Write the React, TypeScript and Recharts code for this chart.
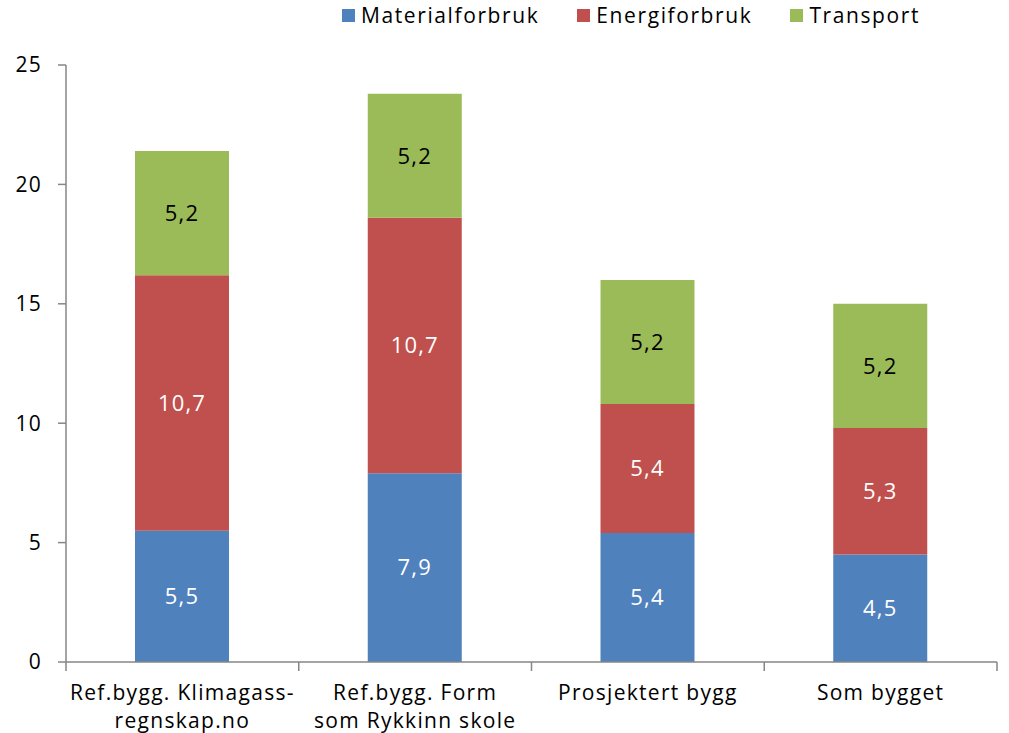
import { Bar, BarChart, LabelList, Legend, XAxis, YAxis } from 'recharts';

const categories = ['Ref.bygg. Klimagass-\nregnskap.no', 'Ref.bygg. Form\nsom Rykkinn skole', 'Prosjektert bygg', 'Som bygget'];
const materialforbruk = [5.5, 7.9, 5.4, 4.5];
const energiforbruk = [10.7, 10.7, 5.4, 5.3];
const transport = [5.2, 5.2, 5.2, 5.2];
const yTicks = [0, 5, 10, 15, 20, 25];

const series = [
  { key: 'material', name: 'Materialforbruk', color: '#4f81bd', labelColor: '#ffffff' },
  { key: 'energi', name: 'Energiforbruk', color: '#c0504d', labelColor: '#ffffff' },
  { key: 'transport', name: 'Transport', color: '#9bbb59', labelColor: '#000000' },
];

const data = categories.map((name, i) => ({
  name,
  material: materialforbruk[i],
  energi: energiforbruk[i],
  transport: transport[i],
}));

const FONT = '"Open Sans", sans-serif';
const AXIS = '#868686';
const SPACING = 1.3;
const fmt = (v: any) => String(v).replace('.', ',');

const CategoryTick = (props: any) => {
  const { x, y, payload } = props;
  const half = payload?.offset ?? 116.5;
  const lines = String(payload.value).split('\n');
  return (
    <g>
      <line x1={x - half} y1={y - 8} x2={x - half} y2={y + 1} stroke={AXIS} strokeWidth={1.5} />
      {payload.index === categories.length - 1 && (
        <line x1={x + half} y1={y - 8} x2={x + half} y2={y + 1} stroke={AXIS} strokeWidth={1.5} />
      )}
      <text x={x} y={y + 30} textAnchor="middle" fill="#000" fontSize={21} letterSpacing={SPACING} fontFamily={FONT}>
        {lines.map((l, i) => (
          <tspan key={i} x={x} dy={i === 0 ? 0 : 28}>
            {l}
          </tspan>
        ))}
      </text>
    </g>
  );
};

const LegendContent = () => (
  <div style={{ display: 'flex', gap: 38, fontFamily: FONT, fontSize: 21, letterSpacing: 1.6, color: '#000' }}>
    {series.map((s) => (
      <div key={s.key} style={{ display: 'flex', alignItems: 'center', gap: 6 }}>
        <span style={{ width: 13, height: 13, background: s.color, display: 'inline-block' }} />
        <span>{s.name}</span>
      </div>
    ))}
  </div>
);

export default function App() {
  return (
    <div style={{ position: 'absolute', left: 0, top: 0, background: '#fff' }}>
      <BarChart width={1009} height={733} data={data} margin={{ top: 37, right: 12, bottom: 6, left: 16 }}>
        <Legend verticalAlign="top" content={<LegendContent />} wrapperStyle={{ top: 1, left: 342, width: 660 }} />
        <YAxis
          domain={[0, 25]}
          ticks={yTicks}
          width={50}
          axisLine={{ stroke: AXIS, strokeWidth: 1.5 }}
          tickLine={{ stroke: AXIS, strokeWidth: 1.5 }}
          tickSize={8}
          tickMargin={16}
          tick={{ fill: '#000', fontSize: 21, fontFamily: FONT, letterSpacing: SPACING }}
        />
        <XAxis
          dataKey="name"
          height={65}
          interval={0}
          axisLine={{ stroke: AXIS, strokeWidth: 1.5 }}
          tickLine={false}
          tick={<CategoryTick />}
        />
        {series.map((s) => (
          <Bar key={s.key} dataKey={s.key} name={s.name} stackId="a" fill={s.color} barSize={94} isAnimationActive={false}>
            <LabelList
              dataKey={s.key}
              position="center"
              fill={s.labelColor}
              fontSize={22}
              letterSpacing={1.2}
              fontFamily={FONT}
              formatter={fmt}
            />
          </Bar>
        ))}
      </BarChart>
    </div>
  );
}
